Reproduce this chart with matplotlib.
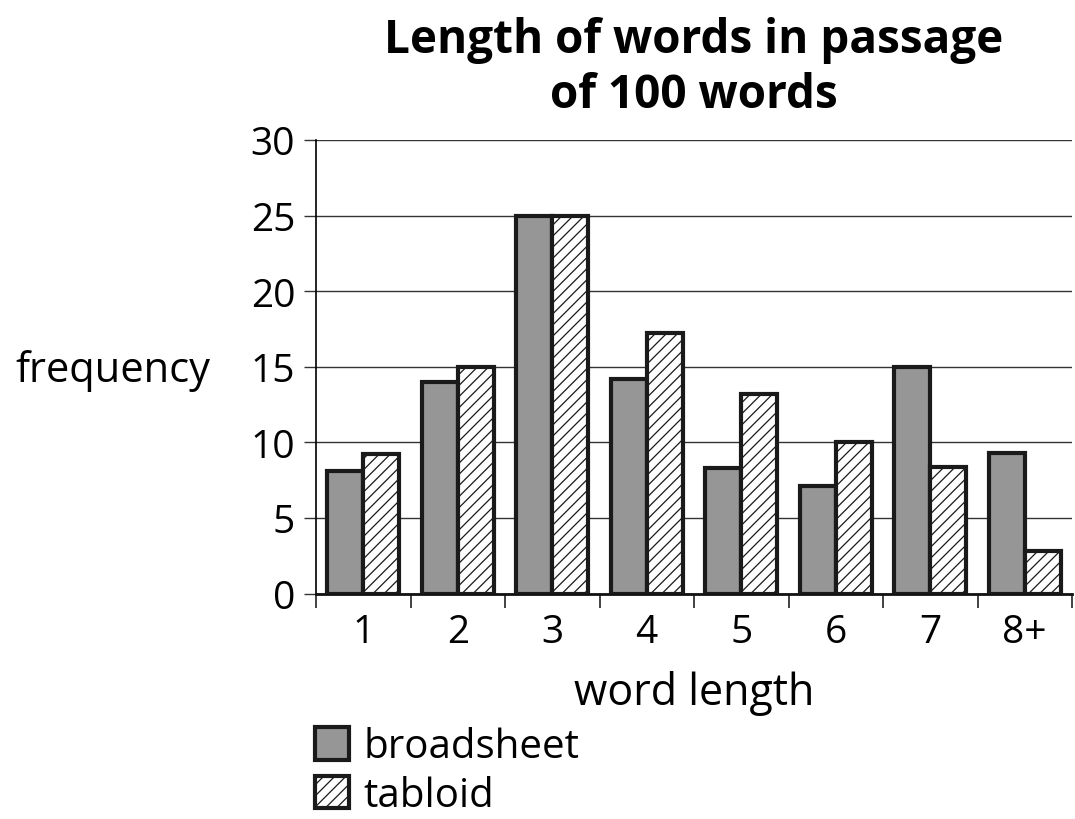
import matplotlib
matplotlib.use("Agg")
import matplotlib.pyplot as plt
import numpy as np
from matplotlib.patches import Patch

categories = ["1", "2", "3", "4", "5", "6", "7", "8+"]
broadsheet = [8.1, 14, 25, 14.2, 8.3, 7.1, 15, 9.3]
tabloid = [9.2, 15, 25, 17.2, 13.2, 10, 8.4, 2.8]
yticks = [0, 5, 10, 15, 20, 25, 30]

plt.rcParams["font.family"] = ["Open Sans", "DejaVu Sans"]
plt.rcParams["hatch.linewidth"] = 0.9
plt.rcParams["hatch.color"] = "#1a1a1a"

edge = "#1a1a1a"
grey = "#969696"
fig = plt.figure(figsize=(10.75, 8.2), dpi=100)
ax = fig.add_axes([316 / 1075, 1 - 594.5 / 820, (1072 - 316) / 1075, (594.5 - 141) / 820])

x = np.arange(len(categories))
w = 0.38
ax.bar(x - w / 2, broadsheet, w, color=grey, edgecolor=edge, linewidth=3.0, zorder=3)
ax.bar(x + w / 2, tabloid, w, color="white", edgecolor=edge, linewidth=3.0, hatch="///", zorder=3)

ax.set_xlim(-0.5, len(categories) - 0.5)
ax.set_ylim(0, 30)
ax.set_yticks(yticks)
ax.set_yticklabels([str(v) for v in yticks], fontsize=28)
ax.yaxis.grid(True, color="#333333", linewidth=1.0, zorder=0)
ax.set_axisbelow(True)

ax.set_xticks(x)
ax.set_xticklabels(categories, fontsize=28)
ax.tick_params(axis="x", which="major", length=0, pad=14)
ax.set_xticks(np.arange(len(categories) + 1) - 0.5, minor=True)
ax.tick_params(axis="x", which="minor", length=10, width=1.2, color="#222222")
ax.tick_params(axis="y", length=9, width=1.0, color="#333333", pad=6)

for s in ["top", "right"]:
    ax.spines[s].set_visible(False)
ax.spines["left"].set_linewidth(1.2)
ax.spines["bottom"].set_linewidth(2.0)
ax.spines["bottom"].set_color("#111111")

ax.set_xlabel("word length", fontsize=31, labelpad=14)
fig.text(15 / 1075, 1 - 382 / 820, "frequency", fontsize=30, ha="left", va="baseline")
fig.text(694 / 1075, 1 - 68 / 820, "Length of words in passage\nof 100 words",
         fontsize=33, fontweight="bold", ha="center", va="center", linespacing=1.2)

handles = [Patch(facecolor=grey, edgecolor=edge, linewidth=3.0, label="broadsheet"),
           Patch(facecolor="white", edgecolor=edge, linewidth=3.0, hatch="///", label="tabloid")]
fig.legend(handles=handles, loc="upper left", bbox_to_anchor=(315 / 1075, 1 - 728 / 820),
           frameon=False, fontsize=29, handlelength=0.85, handleheight=0.85,
           handletextpad=0.35, labelspacing=0.2, borderpad=0, borderaxespad=0)

fig.savefig("out.png", dpi=100)
